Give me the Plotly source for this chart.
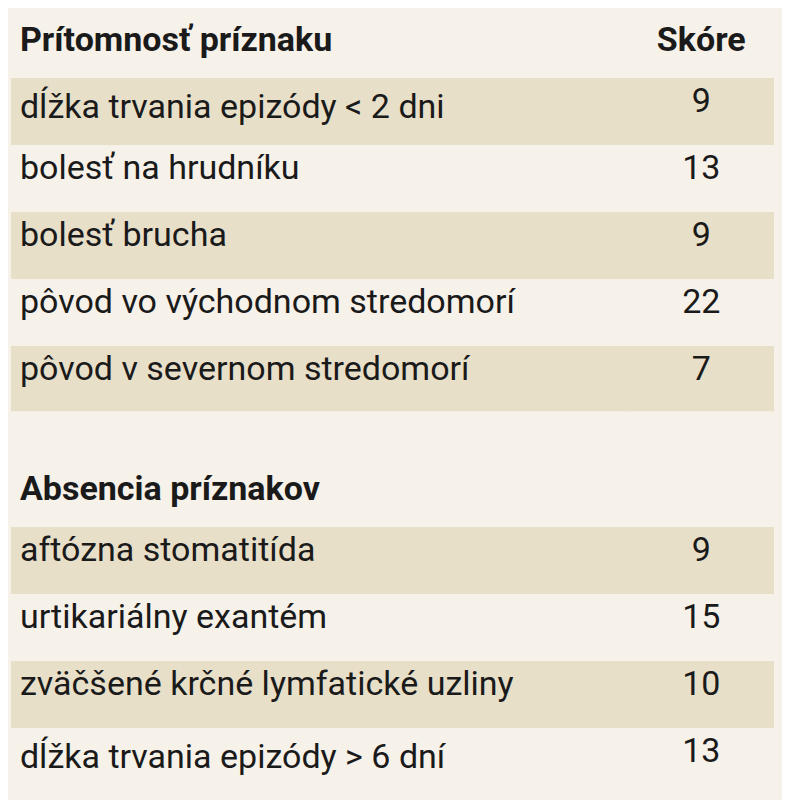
import plotly.graph_objects as go

# Section 1: presence of symptom
head1 = ["<b>Prítomnosť príznaku</b>", "<b>Skóre</b>"]
items1 = ["dĺžka trvania epizódy < 2 dni", "bolesť na hrudníku", "bolesť brucha",
          "pôvod vo východnom stredomorí", "pôvod v severnom stredomorí"]
scores1 = [9, 13, 9, 22, 7]

# Section 2: absence of symptoms
head2 = "<b>Absencia príznakov</b>"
items2 = ["aftózna stomatitída", "urtikariálny exantém",
          "zväčšené krčné lymfatické uzliny", "dĺžka trvania epizódy > 6 dní"]
scores2 = [9, 15, 10, 13]

cream = "#f6f1e9"
tan = "#e8dfc9"
font = dict(family="Roboto", size=34, color="#1a1a1a")


def section(col1, col2, y):
    n = len(col1)
    fills = [cream] + [tan if i % 2 == 0 else cream for i in range(n - 1)]
    return go.Table(
        domain=dict(x=[0.005, 0.97], y=y),
        columnwidth=[615, 145],
        header=dict(values=["", ""], height=0, line_width=0, fill_color=cream),
        cells=dict(values=[col1, col2], height=67, align=["left", "center"],
                   fill_color=[fills, fills],
                   line=dict(color=[fills, fills], width=1),
                   font=font),
    )


fig = go.Figure()
fig.add_trace(section([head1[0]] + items1, [head1[1]] + [str(s) for s in scores1],
                      [1 - 404 / 800, 0.996]))
fig.add_trace(section([head2] + items2, [""] + [str(s) for s in scores2],
                      [0.0, 1 - 452 / 800]))

fig.update_layout(width=790, height=800, margin=dict(l=0, r=0, t=0, b=0),
                  paper_bgcolor=cream)
fig.write_html("out.html")
